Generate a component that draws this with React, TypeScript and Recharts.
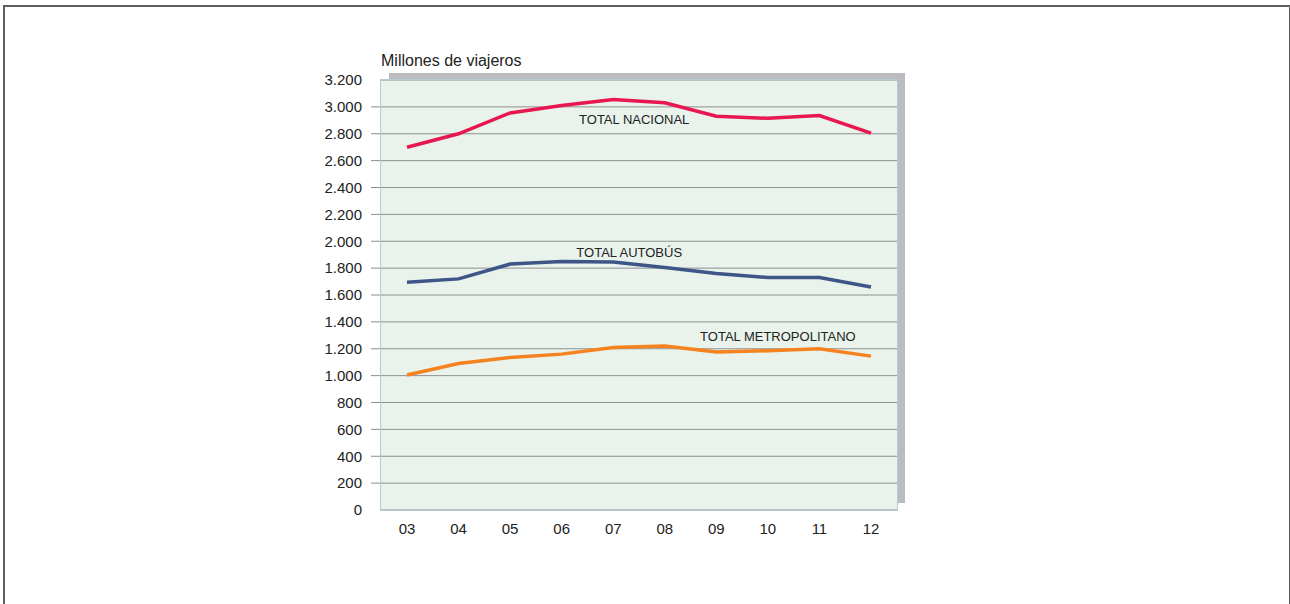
import { LineChart, Line, XAxis, YAxis, CartesianGrid, ReferenceDot } from 'recharts';

const years = ['03', '04', '05', '06', '07', '08', '09', '10', '11', '12'];
const totalNacional = [2700, 2800, 2955, 3010, 3055, 3030, 2930, 2915, 2935, 2805];
const totalAutobus = [1695, 1720, 1830, 1850, 1845, 1805, 1760, 1730, 1730, 1660];
const totalMetropolitano = [1005, 1090, 1135, 1160, 1210, 1220, 1175, 1185, 1200, 1145];
const yTicks = [0, 200, 400, 600, 800, 1000, 1200, 1400, 1600, 1800, 2000, 2200, 2400, 2600, 2800, 3000, 3200];

const data = years.map((year, i) => ({
  year,
  nacional: totalNacional[i],
  autobus: totalAutobus[i],
  metro: totalMetropolitano[i],
}));

const W = 1290;
const H = 604;
const margin = { top: 80, right: 393, bottom: 64, left: 321 };
const yAxisWidth = 60;
const xAxisHeight = 30;
const plotLeft = margin.left + yAxisWidth;
const plotTop = margin.top;
const plotWidth = W - plotLeft - margin.right;
const plotHeight = H - margin.top - margin.bottom - xAxisHeight;

const tickFont = "'Liberation Sans Narrow', 'Arial Narrow', 'Liberation Sans', Arial, sans-serif";
const textFont = "'Liberation Sans', Arial, sans-serif";
const fmt = (v: number) => v.toString().replace(/\B(?=(\d{3})+(?!\d))/g, '.');

const YTick = (props: any) => {
  const { x, y, payload } = props;
  const v = payload.value;
  return (
    <g>
      {v > 0 && v < 3200 && <line x1={x + 9} x2={x + 19} y1={y} y2={y} stroke="#8c8c8c" strokeWidth={1} />}
      <text x={x} y={y} dy="0.355em" textAnchor="end" fill="#222" fontSize={15} fontFamily={tickFont}>
        {fmt(v)}
      </text>
    </g>
  );
};

const seriesLabel = (text: string, dx: number) => ({
  position: 'center' as const,
  value: text,
  dx,
  fill: '#222',
  fontSize: 13,
  fontFamily: textFont,
});

export default function App() {
  return (
    <div style={{ position: 'absolute', left: 0, top: 0, width: W, height: H, background: '#fff', overflow: 'hidden' }}>
      <div style={{ position: 'absolute', left: 3, top: 5, width: 1284, height: 620, borderTop: '2px solid #5e5e5e', borderLeft: '2px solid #5e5e5e', borderRight: '2px solid #5e5e5e' }} />
      <div style={{ position: 'absolute', left: plotLeft + 8, top: plotTop - 7, width: plotWidth, height: plotHeight, background: '#bbbcc0' }} />
      <div style={{ position: 'absolute', left: 0, top: 0 }}>
        <LineChart width={W} height={H} data={data} margin={margin}>
          <CartesianGrid vertical={false} fill="#e9f3ec" stroke="#8f8f8f" strokeWidth={1} />
          <XAxis
            dataKey="year"
            scale="point"
            padding={{ left: 26, right: 26 }}
            height={xAxisHeight}
            axisLine={false}
            tickLine={false}
            tickSize={0}
            tickMargin={13}
            tick={{ fill: '#222', fontSize: 15, fontFamily: tickFont }}
          />
          <YAxis
            width={yAxisWidth}
            domain={[0, 3200]}
            ticks={yTicks}
            interval={0}
            axisLine={false}
            tickLine={false}
            tickSize={10}
            tickMargin={9}
            tick={<YTick />}
            label={{
              content: (p: any) => (
                <text x={p.viewBox.x + p.viewBox.width} y={p.viewBox.y - 14} fill="#222" fontSize={16} fontFamily={textFont}>
                  Millones de viajeros
                </text>
              ),
            }}
          />
          <Line dataKey="nacional" type="linear" stroke="#e8174f" strokeWidth={3.5} dot={false} isAnimationActive={false} />
          <Line dataKey="autobus" type="linear" stroke="#3d5587" strokeWidth={3.5} dot={false} isAnimationActive={false} />
          <Line dataKey="metro" type="linear" stroke="#f5821f" strokeWidth={3.5} dot={false} isAnimationActive={false} />
          <ReferenceDot x="07" y={2910} r={1} fill="none" stroke="none" label={seriesLabel('TOTAL NACIONAL', 21)} />
          <ReferenceDot x="07" y={1918} r={1} fill="none" stroke="none" label={seriesLabel('TOTAL AUTOBÚS', 16)} />
          <ReferenceDot x="10" y={1290} r={1} fill="none" stroke="none" label={seriesLabel('TOTAL METROPOLITANO', 10)} />
        </LineChart>
      </div>
      <div style={{ position: 'absolute', left: plotLeft - 1, top: plotTop - 1, width: plotWidth + 2, height: plotHeight + 2, boxSizing: 'border-box', border: '1.5px solid #b6cad5', pointerEvents: 'none' }} />
    </div>
  );
}
